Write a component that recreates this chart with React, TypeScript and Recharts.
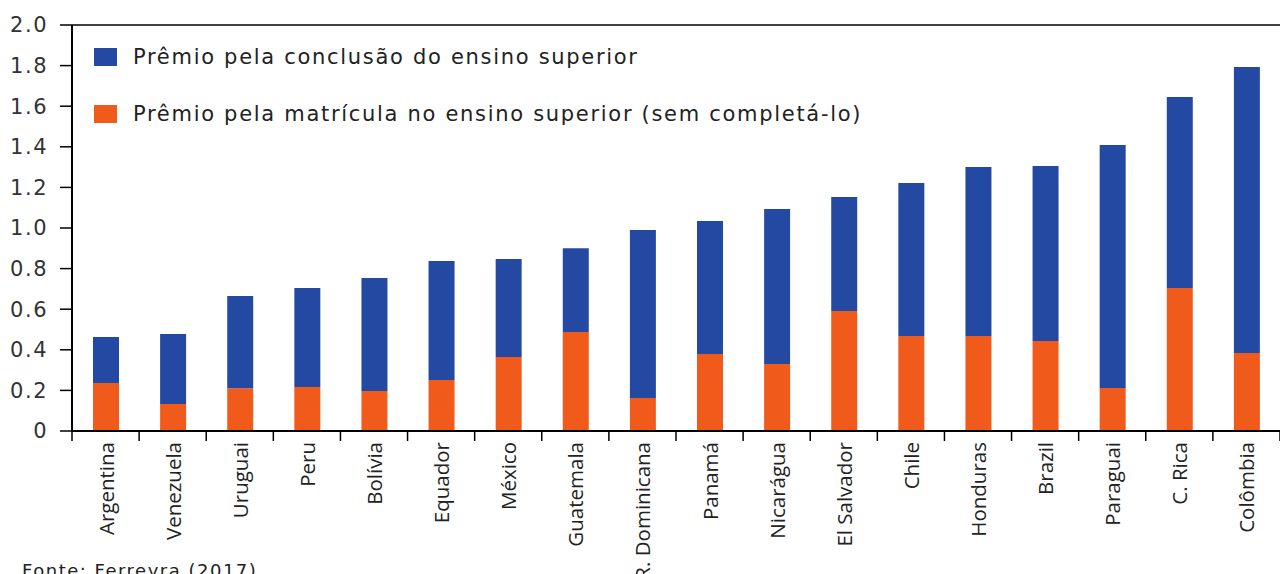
import { BarChart, Bar, XAxis, YAxis, ReferenceLine } from 'recharts'

const paises = [
  'Argentina', 'Venezuela', 'Uruguai', 'Peru', 'Bolívia', 'Equador', 'México', 'Guatemala',
  'R. Dominicana', 'Panamá', 'Nicarágua', 'El Salvador', 'Chile', 'Honduras', 'Brazil',
  'Paraguai', 'C. Rica', 'Colômbia',
]
// prêmio pela matrícula (laranja, base da pilha)
const matricula = [
  0.236, 0.133, 0.21, 0.217, 0.197, 0.251, 0.364, 0.488, 0.163, 0.379, 0.33, 0.591, 0.468,
  0.468, 0.443, 0.212, 0.704, 0.384,
]
// prêmio pela conclusão (azul, topo da pilha)
const conclusao = [
  0.227, 0.345, 0.455, 0.487, 0.557, 0.586, 0.483, 0.412, 0.827, 0.656, 0.764, 0.562, 0.754,
  0.832, 0.862, 1.197, 0.941, 1.409,
]
const yTicks = [0, 0.2, 0.4, 0.6, 0.8, 1.0, 1.2, 1.4, 1.6, 1.8, 2.0]
const legenda = [
  'Prêmio pela conclusão do ensino superior',
  'Prêmio pela matrícula no ensino superior (sem completá-lo)',
]

const BLUE = '#2349a3'
const ORANGE = '#f05b1c'
const FONT = '"Open Sans", "DejaVu Sans", sans-serif'
const WIDE = '"DejaVu Sans", sans-serif'

const W = 1280
const H = 574
const M = { top: 25, right: 0, left: 0, bottom: 0 }
const X_H = 143
const Y_W = 72
const STEP = (W - Y_W - M.right) / paises.length

const data = paises.map((p, i) => ({
  name: p,
  matricula: matricula[i],
  conclusao: conclusao[i],
}))

const XTick = (props: any) => {
  const { x, y, payload, index } = props
  return (
    <g>
      <line x1={x - STEP / 2} x2={x - STEP / 2} y1={y} y2={y + 10} stroke="#000" strokeWidth={1.5} />
      {index === paises.length - 1 && (
        <line x1={x + STEP / 2} x2={x + STEP / 2} y1={y} y2={y + 10} stroke="#000" strokeWidth={1.5} />
      )}
      <text
        transform={`translate(${x},${y + 11}) rotate(-90)`}
        textAnchor="end"
        dominantBaseline="central"
        fontSize={20.5}
        fill="#222"
        fontFamily={FONT}
      >
        {payload.value}
      </text>
    </g>
  )
}

export default function App() {
  return (
    <div style={{ position: 'absolute', left: 0, top: 0, width: W, height: H, overflow: 'hidden', background: '#fff' }}>
      <BarChart width={W} height={H} data={data} margin={M} barSize={26}>
        <XAxis
          dataKey="name"
          height={X_H}
          interval={0}
          tick={<XTick />}
          tickLine={false}
          tickSize={0}
          tickMargin={0}
          axisLine={{ stroke: '#000', strokeWidth: 2 }}
        />
        <YAxis
          width={Y_W}
          domain={[0, 2]}
          ticks={yTicks}
          interval={0}
          tickFormatter={(v: number) => (v === 0 ? '0' : v.toFixed(1))}
          tick={{ fontSize: 21, fill: '#333', fontFamily: WIDE, letterSpacing: 1.5 }}
          tickSize={12}
          tickMargin={12}
          tickLine={{ stroke: '#000', strokeWidth: 1.5 }}
          axisLine={{ stroke: '#000', strokeWidth: 2 }}
        />
        <ReferenceLine y={2} stroke="#000" strokeWidth={1.5} />
        <Bar dataKey="matricula" stackId="a" fill={ORANGE} isAnimationActive={false} />
        <Bar dataKey="conclusao" stackId="a" fill={BLUE} isAnimationActive={false} />
      </BarChart>
      <div
        style={{ position: 'absolute', left: 94, top: 28, fontFamily: WIDE, fontSize: 21, letterSpacing: 1.7, color: '#222' }}
      >
        {legenda.map((t, i) => (
          <div key={t} style={{ display: 'flex', alignItems: 'center', height: 57 }}>
            <span
              style={{ width: 23, height: 18, background: i === 0 ? BLUE : ORANGE, marginRight: 16, display: 'inline-block' }}
            />
            <span>{t}</span>
          </div>
        ))}
      </div>
      <div
        style={{ position: 'absolute', left: 22, top: 560, fontFamily: WIDE, fontSize: 18, letterSpacing: 1.5, color: '#222' }}
      >
        Fonte: Ferreyra (2017)
      </div>
    </div>
  )
}
